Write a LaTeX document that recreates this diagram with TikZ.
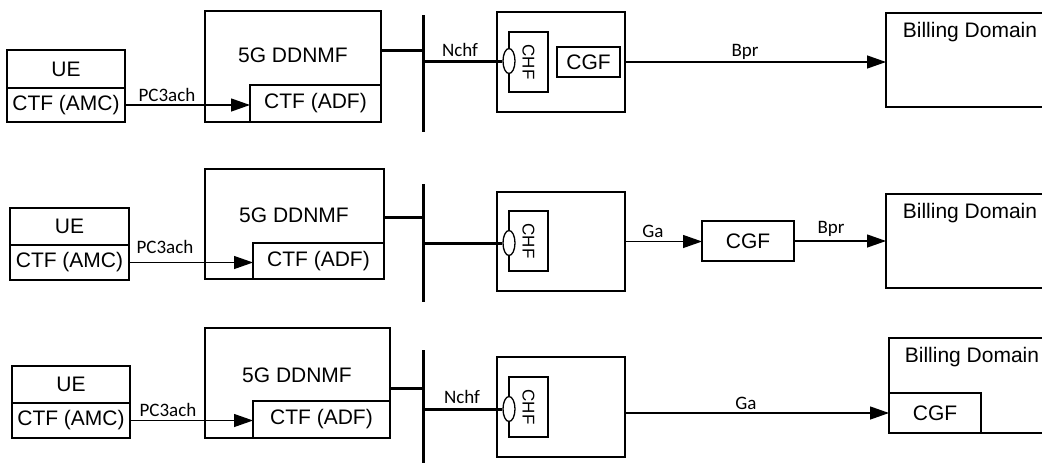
\documentclass[tikz,border=0pt]{standalone}
\usepackage{fontspec}
\setmainfont{Liberation Sans}
\newfontfamily\labfont{Carlito}
\usetikzlibrary{shapes.geometric,arrows.meta}
\newcommand\bx[6]{\node[box, minimum width={(#4-#2)*1pt}, minimum height={(#5-#3)*1pt}] (#1) at (#2,#3) {#6};}
\begin{document}
\begin{tikzpicture}[x=1pt,y=-1pt,
  box/.style={draw, line width=1.3pt, fill=white, inner sep=0pt, outer sep=0pt, anchor=north west, font=\fontsize{21}{25}\selectfont},
  txt/.style={inner sep=0pt, font=\fontsize{21}{25}\selectfont},
  chft/.style={inner sep=0pt, rotate=-90, font=\fontsize{17}{20}\selectfont},
  lab/.style={inner sep=0pt, font=\labfont\fontsize{19}{22}\selectfont},
  ell/.style={draw, ellipse, line width=1.3pt, fill=white, inner sep=0pt, minimum width=12pt, minimum height=25pt},
  arr/.style={line width=1.3pt, -{Triangle[length=19pt,width=13pt]}},
  busline/.style={line width=3pt}]
\useasboundingbox (0,0) rectangle (1042,464);
\clip (0,0) rectangle (1042,464);
% ---------------- Row 1 ----------------
\bx{ue1}{7}{50}{125}{88}{UE}
\bx{amc1}{7}{88}{125}{122}{CTF (AMC)}
\bx{dd1}{205}{11}{381}{122}{}
\node[txt] (dd1t) at (293,55) {5G DDNMF};
\bx{adf1}{250}{85}{381}{122}{CTF (ADF)}
\draw[arr] (amc1.east) -- (adf1.west |- amc1.east);
\node[lab] (pc1) at (167,95) {PC3ach};
\coordinate (bt1) at (423,15);
\coordinate (bb1) at (423,132);
\draw[busline] (bt1) -- (bb1);
\draw[busline] ([yshift=16.5pt]dd1.east) -- ([yshift=16.5pt]dd1.east -| bt1);
\bx{chfo1}{497}{12}{625}{112}{}
\bx{chfi1}{509}{32}{548}{92}{}
\node[chft] (chft1) at (chfi1.center) {CHF};
\node[ell] (el1) at (509,61) {};
\draw[busline] (el1.west -| bt1) -- (el1.west);
\node[lab] (nchf1) at (460,50) {Nchf};
\bx{cgf1}{557}{47}{620}{77}{CGF}
\bx{bd1}{886}{13}{1050}{107}{}
\node[txt] (bd1t) at (970,32) {Billing Domain};
\draw[arr] (chfo1.east) -- (bd1.west |- chfo1.east);
\node[lab] (bpr1) at (745,52) {Bpr};
% ---------------- Row 2 ----------------
\bx{ue2}{10}{208}{129}{245}{UE}
\bx{amc2}{10}{245}{129}{280}{CTF (AMC)}
\bx{dd2}{205}{169}{384}{279}{}
\node[txt] (dd2t) at (294,215) {5G DDNMF};
\bx{adf2}{253}{243}{384}{279}{CTF (ADF)}
\draw[arr] (amc2.east) -- (adf2.west |- amc2.east);
\node[lab] (pc2) at (165,247) {PC3ach};
\coordinate (bt2) at (423,184);
\coordinate (bb2) at (423,302);
\draw[busline] (bt2) -- (bb2);
\draw[busline] ([yshift=7pt]dd2.east) -- ([yshift=7pt]dd2.east -| bt2);
\bx{chfo2}{497}{192}{625}{291}{}
\bx{chfi2}{509}{211}{548}{271}{}
\node[chft] (chft2) at (chfi2.center) {CHF};
\node[ell] (el2) at (509,243) {};
\draw[busline] (el2.west -| bt2) -- (el2.west);
\bx{cgf2}{702}{221}{794}{261}{CGF}
\draw[arr] (chfo2.east) -- (cgf2.west |- chfo2.east);
\node[lab] (ga2) at (653,231) {Ga};
\bx{bd2}{886}{194}{1050}{288}{}
\node[txt] (bd2t) at (970,213) {Billing Domain};
\draw[arr] (cgf2.east) -- (bd2.west |- cgf2.east);
\node[lab] (bpr2) at (831,229) {Bpr};
% ---------------- Row 3 ----------------
\bx{ue3}{12}{366}{130}{403}{UE}
\bx{amc3}{12}{403}{130}{438}{CTF (AMC)}
\bx{dd3}{205}{328}{390}{438}{}
\node[txt] (dd3t) at (297,375) {5G DDNMF};
\bx{adf3}{253}{401}{390}{438}{CTF (ADF)}
\draw[arr] (amc3.east) -- (adf3.west |- amc3.east);
\node[lab] (pc3) at (168,410) {PC3ach};
\coordinate (bt3) at (423,350);
\coordinate (bb3) at (423,463);
\draw[busline] (bt3) -- (bb3);
\draw[busline] ([yshift=-5pt]dd3.east) -- ([yshift=-5pt]dd3.east -| bt3);
\bx{chfo3}{497}{357}{625}{457}{}
\bx{chfi3}{509}{377}{548}{437}{}
\node[chft] (chft3) at (chfi3.center) {CHF};
\node[ell] (el3) at (509,409) {};
\draw[busline] (el3.west -| bt3) -- (el3.west);
\node[lab] (nchf3) at (462,397) {Nchf};
\bx{bd3}{889}{338}{1050}{433}{}
\node[txt] (bd3t) at (972,357) {Billing Domain};
\bx{cgf3}{889}{393}{981}{433}{CGF}
\draw[arr] (cgf3.west -| chfo3.east) -- (cgf3.west);
\node[lab] (ga3) at (746,403) {Ga};
\end{tikzpicture}
\end{document}
